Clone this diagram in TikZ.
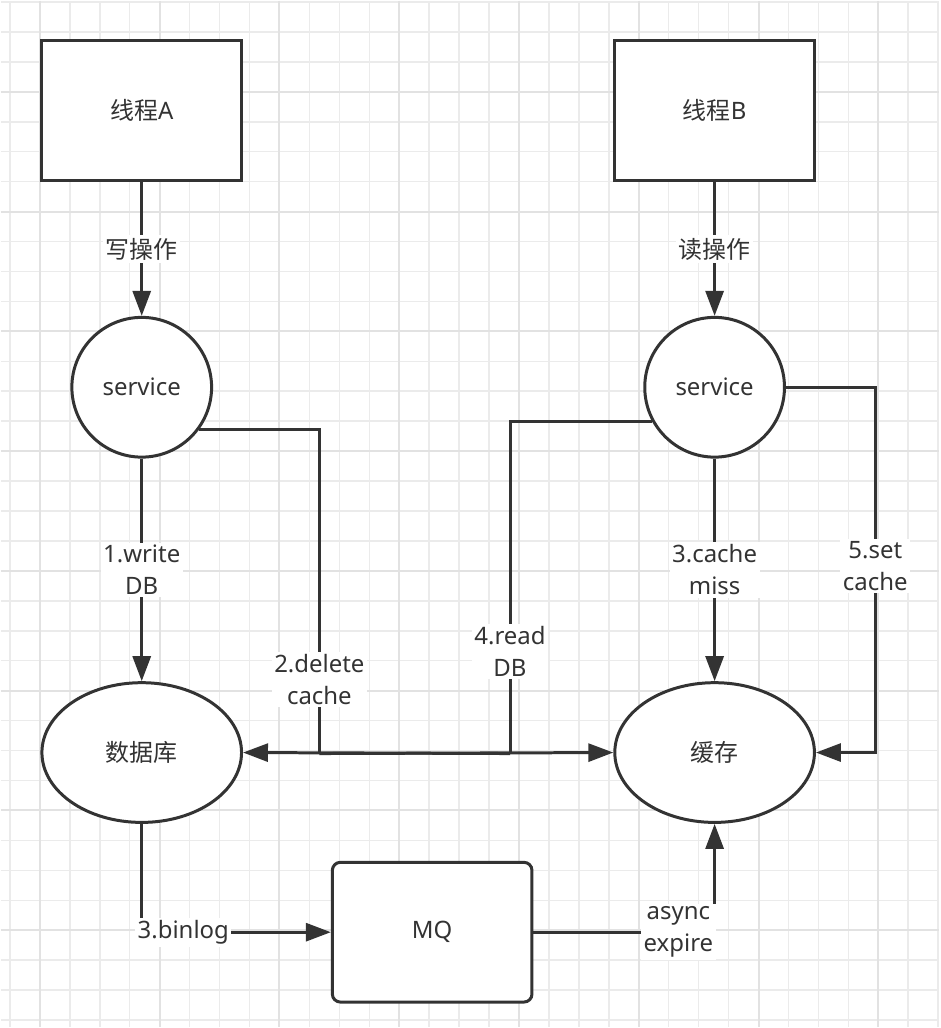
\documentclass[tikz,border=0pt]{standalone}
\usepackage{fontspec}
\setmainfont{Noto Sans}
\newfontfamily\cjk{Noto Sans CJK SC}
\usetikzlibrary{shapes.geometric}
\usetikzlibrary{arrows.meta}
\definecolor{ink}{HTML}{333333}
\definecolor{gridminor}{HTML}{EBEBEB}
\definecolor{gridmajor}{HTML}{E2E2E2}

\begin{document}
\begin{tikzpicture}[x=1pt, y=-1pt,
        txt/.style={text=ink, font=\fontsize{24}{32}\selectfont},
        box/.style={draw=ink, line width=3pt, fill=white, minimum width=200pt, minimum height=140pt, inner sep=0pt, txt},
        ball/.style={circle, draw=ink, line width=3pt, fill=white, minimum size=140pt, inner sep=0pt, txt},
        oval/.style={ellipse, draw=ink, line width=3pt, fill=white, minimum width=200pt, minimum height=140pt, inner sep=0pt, txt},
        wire/.style={draw=ink, line width=3pt},
        link/.style={wire, -{Triangle[length=25pt,width=18pt]}},
        lbl/.style={txt, fill=white, inner sep=2.5pt, align=center}]

        % background and grid
        \fill[white] (0,0) rectangle (940,1028);
        \foreach \x in {9,39,...,939} {
            \draw[gridminor, line width=1.5pt] (\x,0) -- (\x,1028);
        }
        \foreach \y in {1,31,...,1021} {
            \draw[gridminor, line width=1.5pt] (0,\y) -- (940,\y);
        }
        \foreach \x in {39,159,...,879} {
            \draw[gridmajor, line width=2pt] (\x,0) -- (\x,1028);
        }
        \foreach \y in {91,211,...,931} {
            \draw[gridmajor, line width=2pt] (0,\y) -- (940,\y);
        }
        \useasboundingbox (0,0) rectangle (940,1028);

        % threads
        \node[box] (threadA) at (141,110) {{\cjk 线程}A};
        \node[box] (threadB) at (715,110) {{\cjk 线程}B};

        % services
        \node[ball] (svcA) at (141,387) {service};
        \node[ball] (svcB) at (715,387) {service};

        % storage
        \node[oval] (db) at (141,753) {\cjk 数据库};
        \node[oval] (cache) at (715,753) {\cjk 缓存};

        % message queue
        \node[box, rounded corners=8pt] (mq) at (432,933) {MQ};

        % bends
        \coordinate (bendA) at (319,754);
        \coordinate (bendB) at (510,754);
        \coordinate (bendC) at (876,753);

        % thread -> service
        \draw[link] (threadA) -- (svcA) node[lbl, midway] {\cjk 写操作};
        \draw[link] (threadB) -- (svcB) node[lbl, midway] {\cjk 读操作};

        % service -> storage
        \draw[link] (svcA) -- (db) node[lbl, midway] {1.write\\DB};
        \draw[link] (svcB) -- (cache) node[lbl, midway] {3.cache\\miss};

        % crossing links
        \draw[wire] (svcA.-36) -| (bendA);
        \draw[wire] (svcB.-151) -| (bendB);
        \draw[link] (bendA) -- (cache.west);
        \draw[link] (bendB) -- (db.east);
        \node[lbl] (delLbl) at (319,680) {2.delete\\cache};
        \node[lbl] (readLbl) at (510,652) {4.read\\DB};

        % set cache
        \draw[link] (svcB.east) -| (bendC) node[lbl, pos=0.745] {5.set\\cache} -- (cache.east);

        % binlog and expire
        \draw[link] (db.south) |- (mq.west) node[lbl, pos=0.61] {3.binlog};
        \draw[link] (mq.east) -| (cache.south) node[lbl, pos=0.4] {async\\expire};

    \end{tikzpicture}
\end{document}
